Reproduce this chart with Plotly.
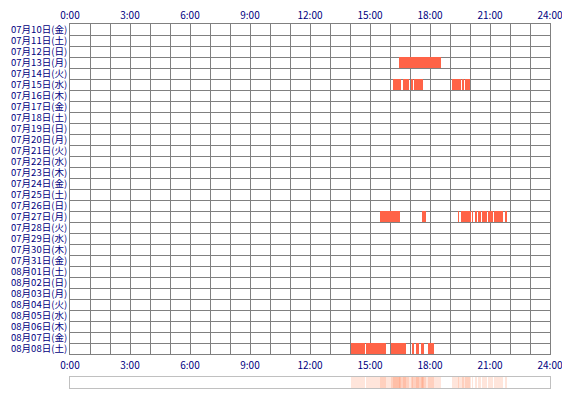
import plotly.graph_objects as go

day_labels = [
    "07月10日(金)", "07月11日(土)", "07月12日(日)", "07月13日(月)", "07月14日(火)",
    "07月15日(水)", "07月16日(木)", "07月17日(金)", "07月18日(土)", "07月19日(日)",
    "07月20日(月)", "07月21日(火)", "07月22日(水)", "07月23日(木)", "07月24日(金)",
    "07月25日(土)", "07月26日(日)", "07月27日(月)", "07月28日(火)", "07月29日(水)",
    "07月30日(木)", "07月31日(金)", "08月01日(土)", "08月02日(日)", "08月03日(月)",
    "08月04日(火)", "08月05日(水)", "08月06日(木)", "08月07日(金)", "08月08日(土)",
]

tick_hours = [0, 3, 6, 9, 12, 15, 18, 21, 24]
tick_labels = ["0:00", "3:00", "6:00", "9:00", "12:00", "15:00", "18:00", "21:00", "24:00"]

# activity segments (row index into day_labels, start hour, end hour)
seg_row = [3,
           5, 5, 5, 5, 5, 5, 5,
           17, 17, 17, 17, 17, 17, 17, 17, 17, 17, 17,
           29, 29, 29, 29, 29, 29, 29]
seg_start = [16.45,
             16.15, 16.65, 17.05, 17.20, 19.10, 19.60, 19.75,
             15.50, 17.60, 19.40, 19.55, 20.10, 20.25, 20.40, 20.60, 20.90, 21.20, 21.75,
             14.05, 14.80, 16.05, 17.10, 17.30, 17.55, 17.90]
seg_end = [18.55,
           16.55, 16.95, 17.13, 17.65, 19.55, 19.70, 20.00,
           16.50, 17.78, 19.45, 20.05, 20.15, 20.35, 20.55, 20.85, 21.15, 21.65, 21.85,
           14.75, 15.80, 16.80, 17.20, 17.45, 17.70, 18.20]

GRID = "#808080"
NAVY = "#000080"
BAR = "#FF6347"

fig = go.Figure()
fig.add_trace(go.Bar(
    orientation="h", y=seg_row, base=seg_start,
    x=[e - s for s, e in zip(seg_start, seg_end)],
    width=1, marker=dict(color=BAR, line_width=0),
    xaxis="x", yaxis="y", hoverinfo="skip",
))

# invisible trace so the bottom hour axis is drawn
fig.add_trace(go.Scatter(
    x=[tick_hours[0], tick_hours[-1]], y=[0, 0], mode="none",
    xaxis="x3", yaxis="y", hoverinfo="skip",
))

# summary strip: one translucent layer per day, overlapping darkens
for r in sorted(set(seg_row)):
    idx = [i for i, rr in enumerate(seg_row) if rr == r]
    fig.add_trace(go.Bar(
        orientation="h", y=[0.5] * len(idx),
        base=[seg_start[i] for i in idx],
        x=[seg_end[i] - seg_start[i] for i in idx],
        width=1, marker=dict(color="#FF7F50", line_width=0), opacity=0.2,
        xaxis="x2", yaxis="y2", hoverinfo="skip",
    ))

H = 364.0
fig.update_layout(
    width=570, height=400,
    margin=dict(l=62, r=28, t=16, b=20, autoexpand=False),
    paper_bgcolor="white", plot_bgcolor="white",
    showlegend=False, barmode="overlay", bargap=0,
    font=dict(family="Noto Sans CJK JP", size=10, color=NAVY),
    xaxis=dict(
        domain=[0, 1], anchor="y", side="top", range=[0, 24], automargin=False,
        tickmode="array", tickvals=tick_hours, ticktext=tick_labels,
        ticks="", showgrid=True, gridcolor=GRID, gridwidth=1,
        minor=dict(dtick=1, tick0=0, showgrid=True, gridcolor=GRID, gridwidth=1),
        showline=True, mirror=True, linecolor=GRID, linewidth=1, zeroline=False,
        tickfont=dict(size=10, color=NAVY),
    ),
    xaxis3=dict(
        overlaying="x", anchor="y", side="bottom", range=[0, 24], automargin=False,
        tickmode="array", tickvals=tick_hours, ticktext=tick_labels,
        ticks="outside", ticklen=2, tickcolor="rgba(0,0,0,0)",
        showgrid=False, zeroline=False, showline=False,
        tickfont=dict(size=10, color=NAVY),
    ),
    yaxis=dict(
        domain=[34 / H, 1], anchor="x", range=[29.5, -0.5], automargin=False,
        tickmode="array", tickvals=list(range(len(day_labels))), ticktext=day_labels,
        ticks="", showgrid=False,
        minor=dict(dtick=1, tick0=-0.5, showgrid=True, gridcolor=GRID, gridwidth=1),
        showline=True, mirror=True, linecolor=GRID, linewidth=1, zeroline=False,
        tickfont=dict(size=9.5, color=NAVY),
    ),
    xaxis2=dict(
        domain=[0, 1], anchor="y2", range=[0, 24], showticklabels=False, automargin=False,
        showgrid=False, zeroline=False, showline=True, mirror=True,
        linecolor="#c0c0c0", linewidth=1, ticks="",
    ),
    yaxis2=dict(
        domain=[0, 11 / H], anchor="x2", range=[0, 1], showticklabels=False, automargin=False,
        showgrid=False, zeroline=False, showline=True, mirror=True,
        linecolor="#c0c0c0", linewidth=1, ticks="",
    ),
)

fig.write_html("out.html")
